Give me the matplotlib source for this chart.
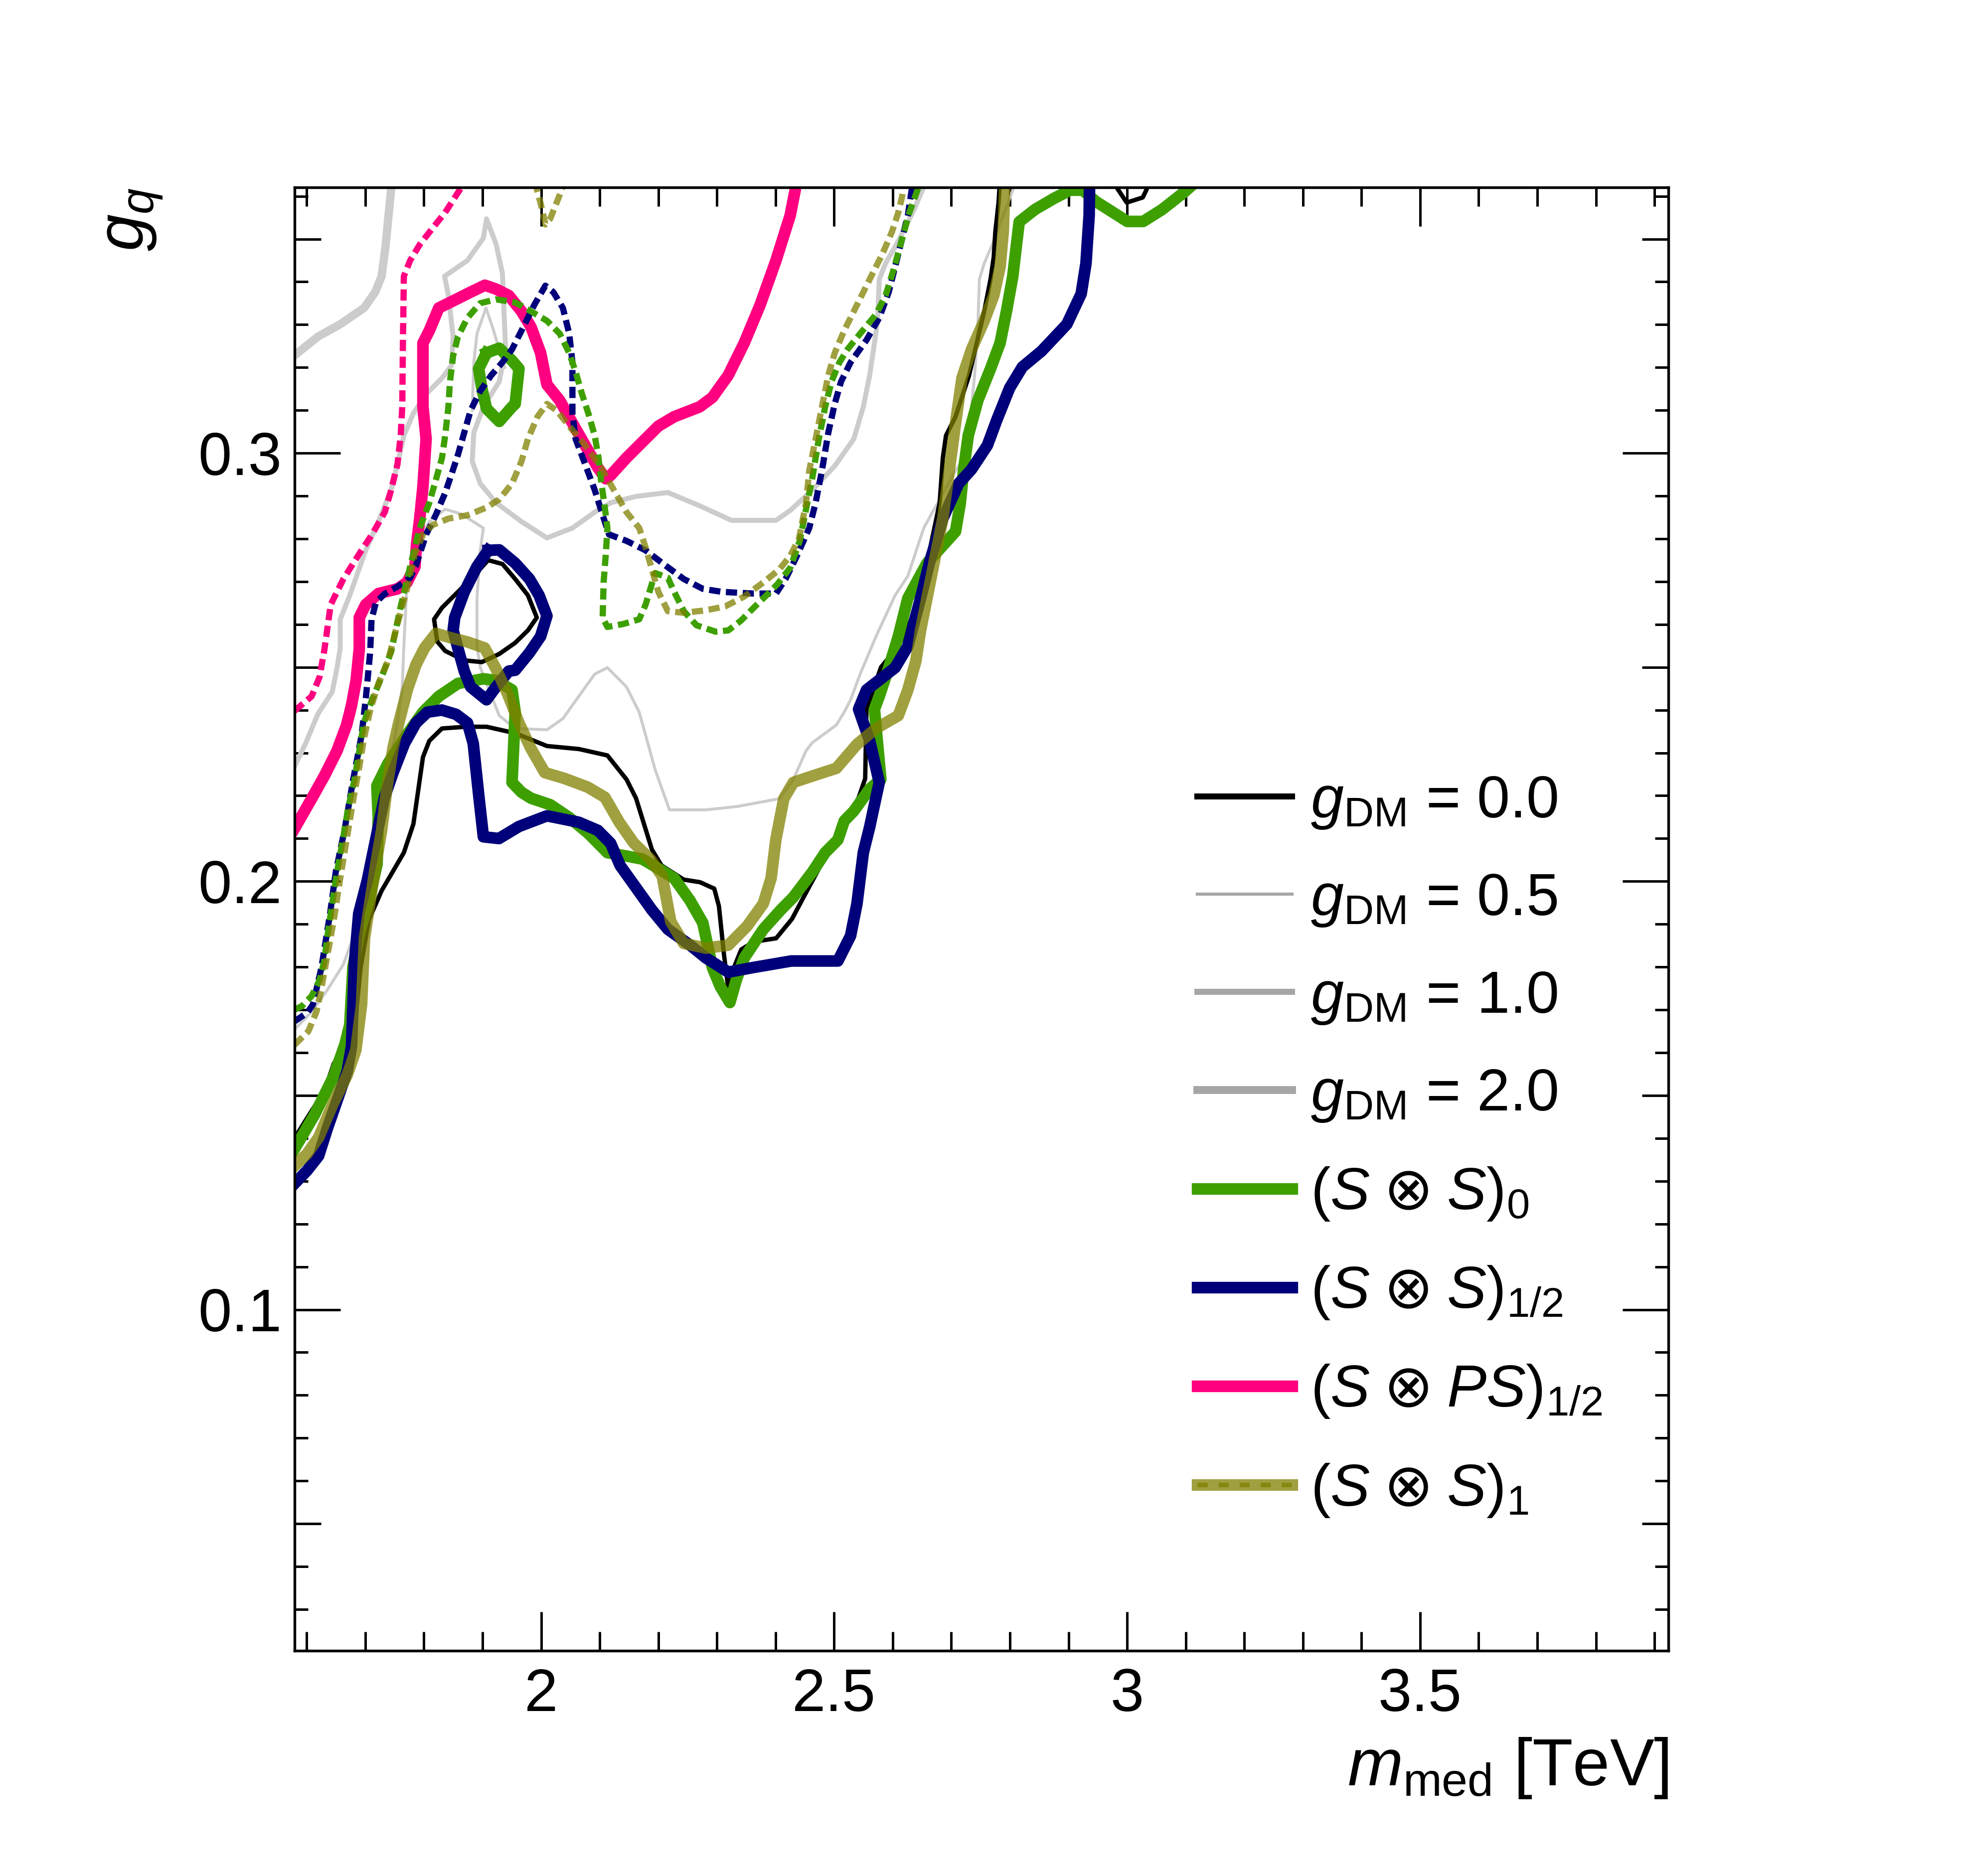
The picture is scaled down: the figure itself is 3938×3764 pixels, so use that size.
import numpy as np
import matplotlib.pyplot as plt
from matplotlib.lines import Line2D
from matplotlib.ticker import FixedLocator, MultipleLocator, FuncFormatter, NullFormatter
from matplotlib.legend_handler import HandlerTuple

plt.rcParams['font.family'] = ['Liberation Sans', 'DejaVu Sans']
plt.rcParams['mathtext.fontset'] = 'custom'
plt.rcParams['mathtext.rm'] = 'Liberation Sans'
plt.rcParams['mathtext.it'] = 'Liberation Sans:italic'
plt.rcParams['mathtext.bf'] = 'Liberation Sans:bold'
plt.rcParams['mathtext.sf'] = 'DejaVu Sans'

# contour lines (m_med in TeV, g_q)
black_x = [1.579, 1.6083, 1.630, 1.6463, 1.668, 1.684, 1.692, 1.706, 1.7277, 1.7657, 1.7820, 1.7983, 1.8091, 1.8308,
           1.8715, 1.9068, 1.9557, 2.0099, 2.0642, 2.1131, 2.1457, 2.1619, 2.1891, 2.2054, 2.2434, 2.2711, 2.2954,
           2.3034, 2.312, 2.3198, 2.3306, 2.3416, 2.363, 2.401, 2.428, 2.4557, 2.49, 2.52, 2.5425, 2.553, 2.5552,
           2.58, 2.61, 2.631, 2.655, 2.6801, 2.6855, 2.6909, 2.7072, 2.73, 2.7561, 2.7669, 2.7724, 2.7751, 2.7805, 2.7832]
black_y = [0.1400, 0.1464, 0.151, 0.1575, 0.162, 0.169, 0.180, 0.191, 0.1978, 0.2067, 0.2134, 0.2290, 0.2328, 0.2357,
           0.2361, 0.2361, 0.2346, 0.2316, 0.2309, 0.2294, 0.2238, 0.2194, 0.2074, 0.2037, 0.2004, 0.1998, 0.1983,
           0.1942, 0.1829, 0.1745, 0.1804, 0.1841, 0.1859, 0.1867, 0.1912, 0.1983, 0.207, 0.213, 0.2198, 0.2240, 0.2402,
           0.250, 0.255, 0.261, 0.272, 0.2884, 0.2989, 0.3041, 0.3085, 0.318, 0.3331, 0.3406, 0.3458, 0.3517, 0.3584, 0.3640]
black_loop_x = [1.9095, 1.9340, 1.9557, 1.9774, 1.9926, 1.9774, 1.9557, 1.9285, 1.8987, 1.8688, 1.8363, 1.8227,
                1.8173, 1.8308, 1.8580, 1.8851, 1.9095]
black_loop_y = [0.2750, 0.2741, 0.2706, 0.2668, 0.2616, 0.2586, 0.2557, 0.2531, 0.2512, 0.2516, 0.2538, 0.2560,
                0.2612, 0.2639, 0.2676, 0.2713, 0.2750]
black_top_x = [2.975, 2.9993, 3.0267, 3.040]
black_top_y = [0.3635, 0.3585, 0.3597, 0.3635]

gray_thick_x = [1.579, 1.6191, 1.6571, 1.6978, 1.7168, 1.7277, 1.7342, 1.7396, 1.7450]
gray_thick_y = [0.3228, 0.3272, 0.3301, 0.3339, 0.3376, 0.3413, 0.3480, 0.3555, 0.3630]
gray_mid_x = [1.579, 1.5974, 1.6191, 1.6436, 1.6517, 1.6571, 1.6571, 1.6734, 1.7006, 1.7223, 1.7440, 1.7548,
              1.7657, 1.7820, 1.8037, 1.8308, 1.8471, 1.8498, 1.8417, 1.8352, 1.8743, 1.9014, 1.9068, 1.9231,
              1.9339, 1.9366, 1.9394, 1.9285, 1.9014, 1.8851, 1.8824, 1.8960, 1.9231, 1.9665, 2.0099, 2.0534,
              2.0914, 2.1185, 2.1620, 2.2162, 2.2705, 2.3248, 2.4008, 2.4250, 2.4630, 2.5010, 2.5335, 2.5498,
              2.5607, 2.5688, 2.5742, 2.5770, 2.5878, 2.6095, 2.6366, 2.6529, 2.656]
gray_mid_y = [0.2268, 0.2320, 0.2391, 0.2443, 0.2499, 0.2544, 0.2612, 0.2668, 0.2773, 0.2840, 0.2914, 0.2974,
              0.3041, 0.3093, 0.3138, 0.3175, 0.3205, 0.3272, 0.3368, 0.3413, 0.3450, 0.3502, 0.3547, 0.3488,
              0.3420, 0.3331, 0.3242, 0.3167, 0.3108, 0.3048, 0.2981, 0.2929, 0.2884, 0.2840, 0.2802, 0.2825,
              0.2862, 0.2884, 0.2899, 0.2908, 0.2877, 0.2843, 0.2843, 0.2866, 0.2914, 0.2970, 0.3033, 0.3108,
              0.3182, 0.3257, 0.3309, 0.3406, 0.3443, 0.3495, 0.3569, 0.3622, 0.3635]
gray_thin_x = [1.579, 1.6083, 1.6354, 1.6625, 1.6843, 1.7006, 1.7114, 1.7250, 1.7385, 1.7548, 1.7630, 1.7657,
               1.7711, 1.79, 1.809, 1.8363, 1.8634, 1.9014, 1.896, 1.8905, 1.8905, 1.896, 1.9068, 1.9285, 1.9557,
               2.0099, 2.0371, 2.0642, 2.0914, 2.1131, 2.1457, 2.1674, 2.1945, 2.2189, 2.2813, 2.3356, 2.4062,
               2.4304, 2.4521, 2.4630, 2.5037, 2.5172, 2.5281, 2.5444, 2.5715, 2.6041, 2.6258, 2.6529, 2.6801,
               2.7072, 2.7289, 2.7344, 2.7398, 2.7452, 2.7479, 2.7561, 2.7724, 2.7886, 2.8049, 2.810]
gray_thin_y = [0.1654, 0.1695, 0.1747, 0.1806, 0.1888, 0.1963, 0.2052, 0.2156, 0.2246, 0.2372, 0.2454, 0.2549,
               0.2698, 0.2795, 0.2840, 0.2869, 0.2858, 0.2825, 0.2773, 0.2661, 0.2549, 0.2500, 0.2462, 0.2387,
               0.2357, 0.2354, 0.2380, 0.2432, 0.2484, 0.2499, 0.2454, 0.2395, 0.2261, 0.2167, 0.2167, 0.2175,
               0.2193, 0.2238, 0.2305, 0.2324, 0.2365, 0.2395, 0.2424, 0.2484, 0.2572, 0.2668, 0.2713, 0.2825,
               0.2892, 0.2959, 0.3003, 0.3108, 0.3182, 0.3294, 0.3406, 0.3443, 0.3495, 0.3555, 0.3614, 0.3635]
gray_peak_x = [1.8824, 1.8851, 1.8905, 1.9058, 1.918, 1.930, 1.938]
gray_peak_y = [0.3100, 0.3212, 0.3279, 0.3339, 0.3290, 0.3235, 0.3200]

green_x = [1.579, 1.6137, 1.6463, 1.6653, 1.6734, 1.6788, 1.69, 1.705, 1.72, 1.722, 1.7196, 1.7385, 1.7711,
           1.7983, 1.8254, 1.8580, 1.9014, 1.9231, 1.9503, 1.9557, 1.9503, 1.9665, 1.9828, 2.0154, 2.0480,
           2.0805, 2.1131, 2.1457, 2.1728, 2.2000, 2.2271, 2.2542, 2.2759, 2.2922, 2.3058, 2.3221, 2.3329,
           2.3465, 2.3791, 2.4087, 2.4304, 2.4630, 2.4847, 2.5064, 2.5172, 2.5335, 2.5607, 2.5797, 2.5742,
           2.5688, 2.5770, 2.5932, 2.6095, 2.6258, 2.6584, 2.7072, 2.7154, 2.7208, 2.7289, 2.7452, 2.7669,
           2.7832, 2.7941, 2.8049, 2.8158, 2.8429, 2.8755, 2.9026, 2.9243, 2.9461, 3.0003, 3.0275, 3.0600,
           3.0980, 3.1144]
green_y = [0.1375, 0.1456, 0.1546, 0.1620, 0.1665, 0.1799, 0.1880, 0.1950, 0.2040, 0.2150, 0.2223, 0.2275,
           0.2343, 0.2395, 0.2432, 0.2462, 0.2473, 0.2469, 0.2447, 0.2395, 0.2231, 0.2208, 0.2194, 0.2179,
           0.2149, 0.2112, 0.2067, 0.2059, 0.2052, 0.2030, 0.2007, 0.1955, 0.1903, 0.1799, 0.1754, 0.1717,
           0.1769, 0.1821, 0.1888, 0.1933, 0.1963, 0.2022, 0.2067, 0.2097, 0.2141, 0.2164, 0.2216, 0.2238,
           0.2320, 0.2402, 0.2432, 0.2499, 0.2572, 0.2661, 0.2743, 0.2817, 0.2884, 0.2959, 0.3041, 0.3123,
           0.3197, 0.3257, 0.3331, 0.3413, 0.3540, 0.3569, 0.3595, 0.3614, 0.3614, 0.3588, 0.3541, 0.3541,
           0.3569, 0.3610, 0.3630]
green_loop_x = [1.9068, 1.9285, 1.9503, 1.9622, 1.9557, 1.9503, 1.9285, 1.9068, 1.8987, 1.8933, 1.9068]
green_loop_y = [0.3234, 0.3245, 0.3216, 0.3197, 0.3115, 0.3108, 0.3074, 0.3104, 0.3152, 0.3197, 0.3234]

navy_x = [1.579, 1.6007, 1.6203, 1.6349, 1.6545, 1.6691, 1.6764, 1.6814, 1.6887, 1.7033, 1.718, 1.7326, 1.7473,
          1.7668, 1.7864, 1.8059, 1.8304, 1.8548, 1.8743, 1.8841, 1.8939, 1.9014, 1.928, 1.962, 2.0099, 2.0642,
          2.0968, 2.1185, 2.1348, 2.162, 2.1891, 2.2163, 2.2542, 2.2813, 2.3194, 2.3628, 2.4268, 2.5064, 2.5281,
          2.5390, 2.5498, 2.5607, 2.5688, 2.5770, 2.5607, 2.5417, 2.5553, 2.6041, 2.6258, 2.6475, 2.6638, 2.6855,
          2.7126, 2.7344, 2.7615, 2.7778, 2.7995, 2.8212, 2.8538, 2.8972, 2.9216, 2.9298, 2.9352, 2.936]
navy_y = [0.1294, 0.1325, 0.1359, 0.1422, 0.1499, 0.1557, 0.1615, 0.1809, 0.1925, 0.2002, 0.2100, 0.2196, 0.2254,
          0.2322, 0.2370, 0.2395, 0.2400, 0.2390, 0.2370, 0.2322, 0.2196, 0.2104, 0.2100, 0.2128, 0.2153, 0.2138,
          0.2119, 0.2089, 0.2037, 0.1985, 0.1933, 0.1888, 0.1851, 0.1821, 0.1788, 0.1799, 0.1814, 0.1814, 0.1873,
          0.1948, 0.2067, 0.2127, 0.2179, 0.2231, 0.2328, 0.2402, 0.2447, 0.2499, 0.2549, 0.2661, 0.2750, 0.2847,
          0.2929, 0.2962, 0.3018, 0.3078, 0.3152, 0.3201, 0.3238, 0.3301, 0.3372, 0.3443, 0.3555, 0.3640]
navy_loop_x = [1.9095, 1.9285, 1.9557, 1.9801, 1.9964, 2.0099, 1.9991, 1.9801, 1.9557, 1.9448, 1.923, 1.9068,
               1.8797, 1.8688, 1.858, 1.8498, 1.8525, 1.8688, 1.8905, 1.9095]
navy_loop_y = [0.2773, 0.2774, 0.2743, 0.2706, 0.2668, 0.2620, 0.2572, 0.2534, 0.2493, 0.2491, 0.2454, 0.2424,
               0.2454, 0.2491, 0.2544, 0.2586, 0.2616, 0.2676, 0.2735, 0.2773]

pink_x = [1.579, 1.6083, 1.6300, 1.6517, 1.6680, 1.6761, 1.6843, 1.6897, 1.6897, 1.7005, 1.7223, 1.7548, 1.7711,
          1.7847, 1.7874, 1.7928, 1.7983, 1.8037, 1.7983, 1.7983, 1.8091, 1.8254, 1.8580, 1.8797, 1.9041, 1.9231,
          1.9448, 1.9665, 1.9828, 1.9991, 2.0099, 2.0317, 2.0534, 2.0751, 2.0968, 2.1104, 2.1185, 2.1457, 2.1728,
          2.2000, 2.2271, 2.2705, 2.2922, 2.3194, 2.3465, 2.3737, 2.4008, 2.4250, 2.4358]
pink_y = [0.2123, 0.2193, 0.2246, 0.2305, 0.2365, 0.2409, 0.2469, 0.2544, 0.2616, 0.2646, 0.2672, 0.2683, 0.2698,
          0.2735, 0.2787, 0.2847, 0.2922, 0.3033, 0.3108, 0.3257, 0.3286, 0.3339, 0.3361, 0.3376, 0.3392, 0.3383,
          0.3368, 0.3331, 0.3294, 0.3234, 0.3160, 0.3123, 0.3070, 0.3018, 0.2966, 0.2940, 0.2948, 0.2989, 0.3026,
          0.3063, 0.3085, 0.3108, 0.3130, 0.3182, 0.3257, 0.3346, 0.3450, 0.3555, 0.3630]

olive_x = [1.5763, 1.6007, 1.6203, 1.6447, 1.6691, 1.6838, 1.6935, 1.6985, 1.7082, 1.7180, 1.7277, 1.7375, 1.7473,
           1.7570, 1.7717, 1.7864, 1.8010, 1.8206, 1.8450, 1.8743, 1.9036, 1.9231, 1.9427, 1.9622, 1.9818, 2.0062,
           2.0404, 2.0795, 2.1089, 2.1333, 2.1577, 2.1870, 2.2066, 2.2212, 2.2434, 2.2813, 2.3194, 2.3519, 2.3791,
           2.3924, 2.4005, 2.4141, 2.4304, 2.4630, 2.5037, 2.5390, 2.5715, 2.6095, 2.6258, 2.6394, 2.6475, 2.6692,
           2.6855, 2.6964, 2.7072, 2.7181, 2.7344, 2.7561, 2.7724, 2.7832, 2.7886, 2.7914]
olive_y = [0.1332, 0.1364, 0.1402, 0.1480, 0.1548, 0.1606, 0.1712, 0.1867, 0.1954, 0.2041, 0.2119, 0.2225, 0.2312,
           0.2370, 0.2448, 0.2506, 0.2545, 0.2579, 0.2569, 0.2559, 0.2545, 0.2496, 0.2438, 0.2370, 0.2312, 0.2254,
           0.2240, 0.2220, 0.2196, 0.2138, 0.2090, 0.2051, 0.2012, 0.1906, 0.1855, 0.1844, 0.1851, 0.1896, 0.1948,
           0.2007, 0.2097, 0.2193, 0.2231, 0.2246, 0.2264, 0.2320, 0.2357, 0.2387, 0.2447, 0.2514, 0.2586, 0.2735,
           0.2847, 0.2959, 0.3070, 0.3175, 0.3242, 0.3309, 0.3368, 0.3435, 0.3517, 0.3630]

# dashed contours
pink_d_x = [1.579, 1.6083, 1.6218, 1.6300, 1.6408, 1.6625, 1.6897, 1.7114, 1.7331, 1.7440, 1.7548, 1.7603, 1.7630,
            1.7641, 1.7657, 1.7765, 1.7928, 1.8145, 1.8362, 1.8607, 1.8670]
pink_d_y = [0.2398, 0.2432, 0.2477, 0.2540, 0.2646, 0.2706, 0.2765, 0.2810, 0.2862, 0.2914, 0.2974, 0.3041, 0.3108,
            0.3257, 0.3413, 0.3450, 0.3487, 0.3525, 0.3562, 0.3614, 0.3630]
navy_d_x = [1.579, 1.6007, 1.6105, 1.6251, 1.6398, 1.6495, 1.6643, 1.6789, 1.6935, 1.7009, 1.7082, 1.7106, 1.7180,
            1.7326, 1.7570, 1.7766, 1.7864, 1.8037, 1.8200, 1.8362, 1.8471, 1.8580, 1.8688, 1.8797, 1.8960, 1.9150,
            1.9339, 1.9502, 1.9665, 1.9882, 2.0072, 2.0208, 2.0371, 2.0479, 2.0534, 2.0534, 2.0588, 2.0751, 2.0914,
            2.1050, 2.1158, 2.1457, 2.1782, 2.2108, 2.2434, 2.2760, 2.3085, 2.3628, 2.4008, 2.4171, 2.4358, 2.4575,
            2.4684, 2.4792, 2.4901, 2.5010, 2.5118, 2.5281, 2.5552, 2.5770, 2.5932, 2.6041, 2.6149, 2.6258, 2.6340]
navy_d_y = [0.1673, 0.1693, 0.1712, 0.1799, 0.1925, 0.2022, 0.2119, 0.2235, 0.2341, 0.2429, 0.2535, 0.2612, 0.2651,
            0.2671, 0.2690, 0.2709, 0.2738, 0.2810, 0.2855, 0.2907, 0.2951, 0.2996, 0.3048, 0.3100, 0.3145, 0.3182,
            0.3212, 0.3242, 0.3286, 0.3346, 0.3391, 0.3376, 0.3339, 0.3279, 0.3212, 0.3093, 0.3033, 0.2974, 0.2914,
            0.2855, 0.2810, 0.2795, 0.2773, 0.2739, 0.2706, 0.2683, 0.2676, 0.2672, 0.2672, 0.2706, 0.2758, 0.2825,
            0.2884, 0.2959, 0.3048, 0.3115, 0.3167, 0.3212, 0.3264, 0.3316, 0.3376, 0.3435, 0.3495, 0.3555, 0.3630]
green_d_x = [1.579, 1.5920, 1.6083, 1.6218, 1.6300, 1.6354, 1.6435, 1.6517, 1.6625, 1.6707, 1.6816, 1.6897, 1.6978,
             1.7114, 1.7277, 1.7440, 1.7600, 1.7765, 1.7928, 1.8091, 1.8200, 1.8308, 1.8362, 1.8417, 1.8444, 1.8498,
             1.8580, 1.8743, 1.8960, 1.9231, 1.9557, 1.9828, 2.0099, 2.0317, 2.0479, 2.0588, 2.0697, 2.0805, 2.0914,
             2.0979, 2.1022, 2.1076, 2.1131, 2.1104, 2.1066, 2.1050, 2.1131, 2.1402, 2.1674, 2.1782, 2.1864, 2.1945,
             2.2162, 2.2271, 2.2434, 2.2651, 2.2977, 2.3194, 2.3411, 2.3628, 2.3845, 2.4033, 2.4250, 2.4413, 2.4521,
             2.4630, 2.4738, 2.4847, 2.4955, 2.5091, 2.5227, 2.5444, 2.5715, 2.5878, 2.6014, 2.6149, 2.6285, 2.6421,
             2.6475]
green_d_y = [0.1700, 0.1709, 0.1732, 0.1769, 0.1814, 0.1873, 0.1948, 0.2022, 0.2104, 0.2171, 0.2238, 0.2305, 0.2372,
             0.2424, 0.2477, 0.2536, 0.2640, 0.2735, 0.2825, 0.2884, 0.2936, 0.2989, 0.3041, 0.3108, 0.3167, 0.3227,
             0.3272, 0.3316, 0.3350, 0.3359, 0.3352, 0.3331, 0.3309, 0.3279, 0.3234, 0.3190, 0.3138, 0.3093, 0.3041,
             0.2989, 0.2936, 0.2884, 0.2825, 0.2765, 0.2698, 0.2616, 0.2594, 0.2601, 0.2612, 0.2646, 0.2683, 0.2720,
             0.2709, 0.2676, 0.2631, 0.2598, 0.2583, 0.2586, 0.2609, 0.2639, 0.2668, 0.2694, 0.2732, 0.2795, 0.2869,
             0.2944, 0.3033, 0.3108, 0.3167, 0.3212, 0.3242, 0.3279, 0.3324, 0.3368, 0.3428, 0.3495, 0.3562, 0.3614,
             0.3630]
olive_d_x = [1.579, 1.6028, 1.6164, 1.6246, 1.6354, 1.6463, 1.6571, 1.6680, 1.6788, 1.6897, 1.6978, 1.7087, 1.7223,
             1.7385, 1.7548, 1.7711, 1.7847, 1.7983, 1.8145, 1.8417, 1.8743, 1.9068, 1.9285, 1.9503, 1.9665, 1.9774,
             1.9937, 2.0099, 2.0262, 2.0479, 2.0751, 2.1022, 2.1240, 2.1457, 2.1674, 2.1782, 2.1891, 2.2000, 2.2162,
             2.2434, 2.2813, 2.3140, 2.3465, 2.3791, 2.4062, 2.4250, 2.4400, 2.4521, 2.4575, 2.4684, 2.4792, 2.4901,
             2.5010, 2.5172, 2.5390, 2.5607, 2.5824, 2.5987, 2.6095, 2.6160, 2.6187]
olive_d_y = [0.1618, 0.1650, 0.1695, 0.1747, 0.1829, 0.1911, 0.2007, 0.2097, 0.2186, 0.2268, 0.2335, 0.2402, 0.2462,
             0.2514, 0.2601, 0.2683, 0.2765, 0.2810, 0.2832, 0.2847, 0.2855, 0.2873, 0.2892, 0.2929, 0.2981, 0.3033,
             0.3085, 0.3115, 0.3100, 0.3063, 0.3018, 0.2966, 0.2914, 0.2862, 0.2825, 0.2780, 0.2728, 0.2676, 0.2631,
             0.2627, 0.2633, 0.2642, 0.2665, 0.2698, 0.2728, 0.2760, 0.2800, 0.2884, 0.2959, 0.3033, 0.3108, 0.3182,
             0.3234, 0.3286, 0.3346, 0.3406, 0.3465, 0.3517, 0.3562, 0.3599, 0.3630]
olive_d_top_x = [1.9890, 2.0018, 2.0072, 2.0154, 2.0262, 2.0371, 2.040]
olive_d_top_y = [0.3635, 0.3569, 0.3534, 0.3547, 0.3584, 0.3622, 0.3635]

labels = [r'$g_{\mathrm{DM}}$ = 0.0', r'$g_{\mathrm{DM}}$ = 0.5', r'$g_{\mathrm{DM}}$ = 1.0',
          r'$g_{\mathrm{DM}}$ = 2.0', r'$(S\;\mathsf{⊗}\;S)_{0}$', r'$(S\;\mathsf{⊗}\;S)_{1/2}$',
          r'$(S\;\mathsf{⊗}\;PS)_{1/2}$', r'$(S\;\mathsf{⊗}\;S)_{1}$']

c_green = '#3da000'
c_navy = '#00007a'
c_pink = '#ff0080'
c_olive = '#808000'
c_gray = '#cccccc'
c_leg_gray = '#a6a6a6'
dash = (1.8, 0.9)
lw_thick = 5.6
lw_dash = 3.0

fig = plt.figure(figsize=(3938 / 300, 3764 / 300), dpi=300)
ax = fig.add_axes([0.15, 0.12, 0.70, 0.78])

ax.plot(gray_thick_x, gray_thick_y, color=c_gray, lw=4.0)
ax.plot(gray_mid_x, gray_mid_y, color=c_gray, lw=2.4)
ax.plot(gray_thin_x, gray_thin_y, color=c_gray, lw=1.4)
ax.plot(gray_peak_x, gray_peak_y, color=c_gray, lw=1.4)

ax.plot(black_x, black_y, color='black', lw=2.1)
ax.plot(black_loop_x, black_loop_y, color='black', lw=2.1)
ax.plot(black_top_x, black_top_y, color='black', lw=2.1)

ax.plot(green_x, green_y, color=c_green, lw=lw_thick)
ax.plot(green_loop_x, green_loop_y, color=c_green, lw=lw_thick)
ax.plot(navy_x, navy_y, color=c_navy, lw=lw_thick)
ax.plot(navy_loop_x, navy_loop_y, color=c_navy, lw=lw_thick)
ax.plot(pink_x, pink_y, color=c_pink, lw=lw_thick)

ax.plot(pink_d_x, pink_d_y, color=c_pink, lw=lw_dash, dashes=dash)
ax.plot(navy_d_x, navy_d_y, color=c_navy, lw=lw_dash, dashes=dash)
ax.plot(green_d_x, green_d_y, color=c_green, lw=lw_dash, dashes=dash)

ax.plot(olive_x, olive_y, color=c_olive, lw=lw_thick, alpha=0.75)
ax.plot(olive_d_x, olive_d_y, color=c_olive, lw=lw_dash, dashes=dash, alpha=0.75)
ax.plot(olive_d_top_x, olive_d_top_y, color=c_olive, lw=lw_dash, dashes=dash, alpha=0.75)

ax.set_xlim(1.579, 3.924)
ax.set_ylim(0.0203, 0.362)

# axes and ticks, ROOT style
ax.xaxis.set_major_locator(MultipleLocator(0.5))
ax.xaxis.set_minor_locator(MultipleLocator(0.1))
ax.xaxis.set_major_formatter(FuncFormatter(lambda v, p: '%g' % v))
ax.yaxis.set_major_locator(FixedLocator([0.1, 0.2, 0.3]))
ax.yaxis.set_minor_locator(FixedLocator([k / 100 for k in range(3, 37) if k % 5 != 0]))
ax.yaxis.set_major_formatter(FuncFormatter(lambda v, p: '%g' % v))
ax.tick_params(which='both', direction='in', top=True, right=True, width=1.2, labelsize=29)
ax.tick_params(axis='x', which='major', length=18.7, pad=8)
ax.tick_params(axis='x', which='minor', length=9.1)
ax.tick_params(axis='y', which='major', length=22, pad=6)
ax.tick_params(axis='y', which='minor', length=6.5)
for s in ax.spines.values():
    s.set_linewidth(1.3)

for side in ('left', 'right'):
    sec = ax.secondary_yaxis(side)
    sec.set_yticks([0.05, 0.15, 0.25, 0.35])
    sec.yaxis.set_major_formatter(NullFormatter())
    sec.tick_params(direction='in', length=12.7, width=1.2)
    sec.spines[side].set_visible(False)

ax.set_xlabel(r'$m_{\mathrm{med}}$ [TeV]', fontsize=32, loc='right')
ax.xaxis.set_label_coords(1.0, -0.058)
ax.set_ylabel(r'$g_q$', fontsize=32, loc='top')
ax.yaxis.set_label_coords(-0.095, 1.0)

handles = [Line2D([], [], color='black', lw=2.9),
           Line2D([], [], color=c_leg_gray, lw=1.5),
           Line2D([], [], color=c_leg_gray, lw=2.9),
           Line2D([], [], color=c_leg_gray, lw=3.8),
           Line2D([], [], color=c_green, lw=lw_thick),
           Line2D([], [], color=c_navy, lw=lw_thick),
           Line2D([], [], color=c_pink, lw=lw_thick),
           (Line2D([], [], color=c_olive, lw=lw_thick, alpha=0.75),
            Line2D([], [], color=c_olive, lw=2.2, alpha=0.75, dashes=(2.2, 2.4)))]
ax.legend(handles, labels, loc='upper left', bbox_to_anchor=(0.657, 0.599), frameon=False,
          fontsize=28.5, handlelength=1.6, handletextpad=0.31, labelspacing=0.70,
          borderpad=0, borderaxespad=0, handler_map={tuple: HandlerTuple(ndivide=1)})

fig.savefig('out.png', dpi=300, facecolor='white')
